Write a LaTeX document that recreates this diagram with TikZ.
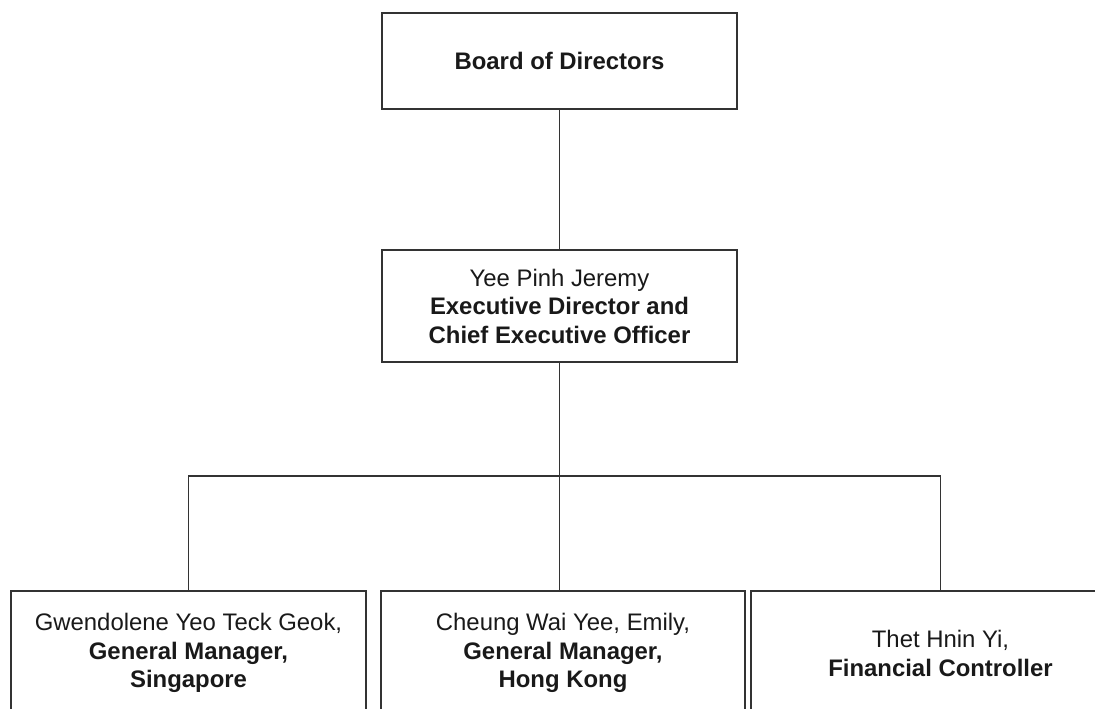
\documentclass[tikz,border=0pt]{standalone}
\usepackage{fontspec}
\setmainfont{Liberation Sans}
\tikzset{
  post/.style={draw=black!80, line width=0.9pt, align=center, text=black!90,
    font=\fontsize{13.6}{16.2}\selectfont, inner sep=0pt},
  link/.style={draw=black!80, line width=0.9pt},
}
\begin{document}
\begin{tikzpicture}
  \useasboundingbox (0,0) rectangle (21.9,14.16);
  \clip (0,0) rectangle (21.9,14.16);
  \node[post, minimum width=7.1cm, minimum height=1.92cm] (board) at (11.19,12.94) {\textbf{Board of Directors}};
  \node[post, minimum width=7.1cm, minimum height=2.24cm] (ceo) at (11.19,8.04) {Yee Pinh Jeremy\\ \textbf{Executive Director and}\\ \textbf{Chief Executive Officer}};
  \coordinate (split) at (11.19,4.64);
  % bottom row runs off the page
  \node[post, anchor=north, minimum width=7.1cm, minimum height=2.5cm] (gmsg) at (3.77,2.36) {Gwendolene Yeo Teck Geok,\\ \textbf{General Manager,}\\ \textbf{Singapore}};
  \node[post, anchor=north, minimum width=7.28cm, minimum height=2.5cm] (gmhk) at (11.26,2.36) {Cheung Wai Yee, Emily,\\ \textbf{General Manager,}\\ \textbf{Hong Kong}};
  \node[post, anchor=north, minimum width=7.58cm, minimum height=2.5cm] (fc) at (18.81,2.36) {Thet Hnin Yi,\\ \textbf{Financial Controller}};
  \path[link] (board) edge (ceo);
  \path[link] (ceo) edge (split);
  \draw[link] (split) -| (gmsg.north);
  \draw[link] (split) -| (fc.north);
  \draw[link] (split) -- (split |- gmhk.north);
\end{tikzpicture}
\end{document}
